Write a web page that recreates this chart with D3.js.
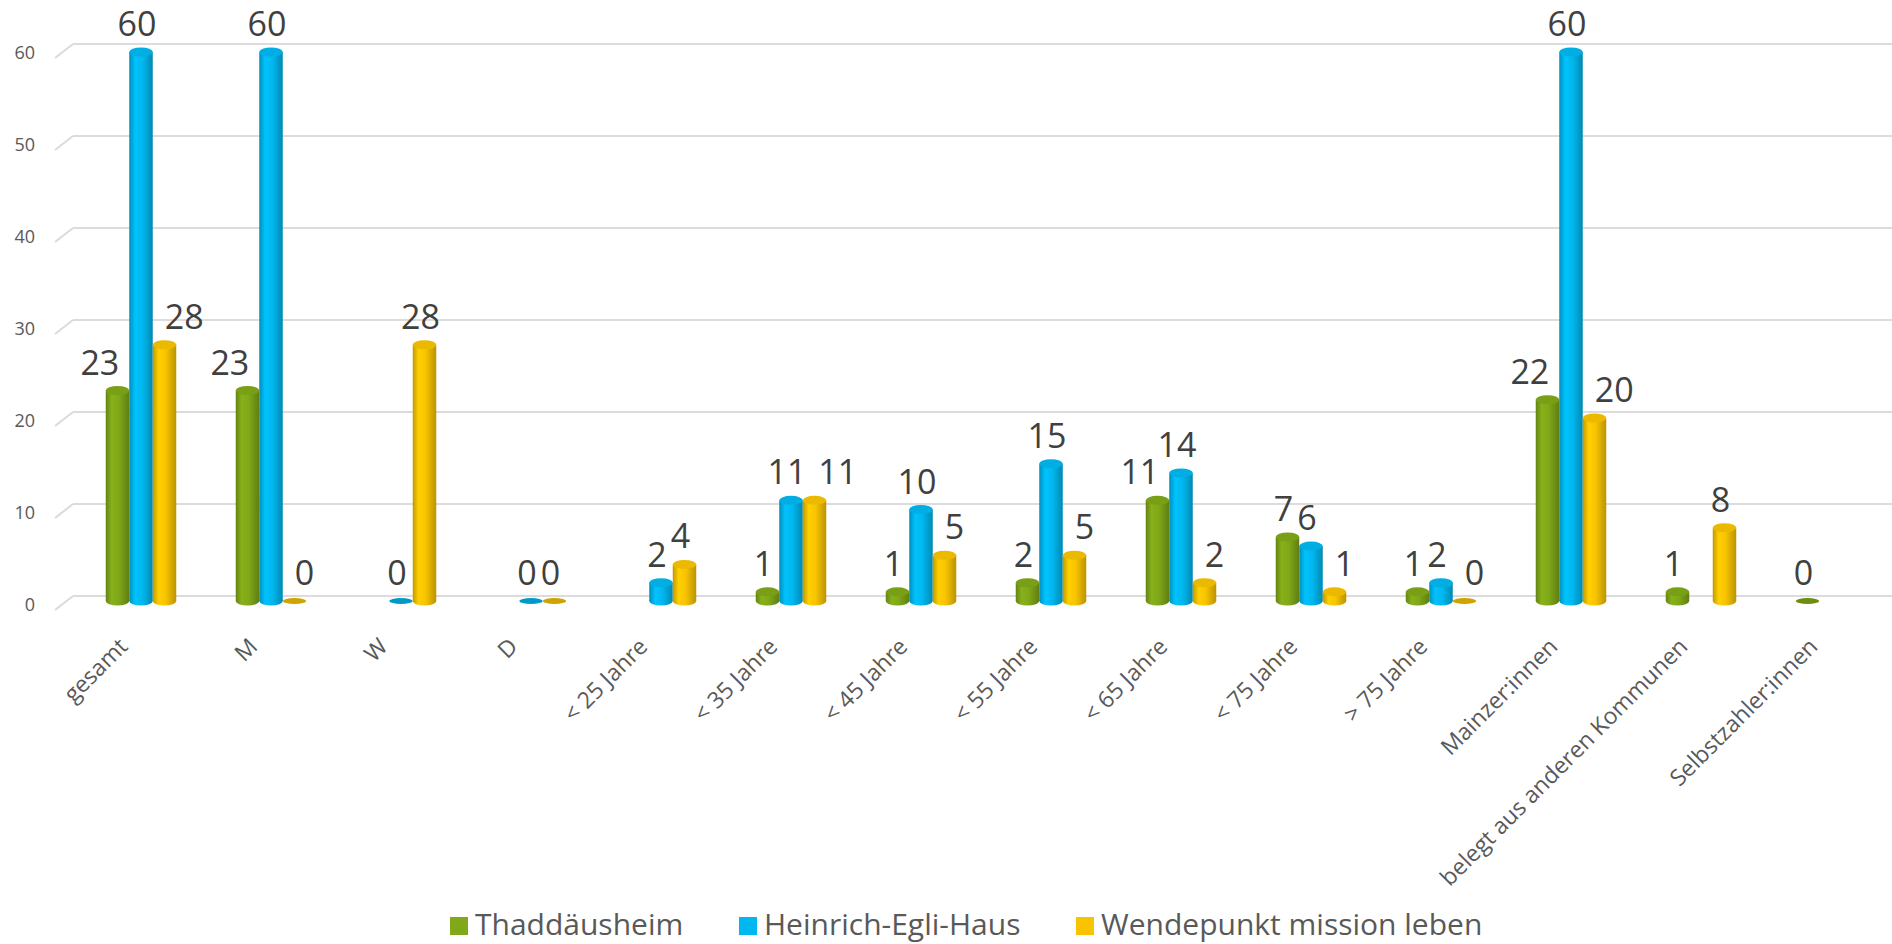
<!DOCTYPE html>
<html lang="de">
<head>
  <meta charset="UTF-8">
  <script src="https://cdn.jsdelivr.net/npm/d3@7"></script>
  <title>Belegung</title>
  <style>
    body { margin: 0; background: #fff; }
    text { font-family: "Open Sans", "Noto Sans", sans-serif; }
  </style>
</head>
<body>
  <svg width="1892" height="944"></svg>
  <script>
    var categories = ["gesamt", "M", "W", "D", "< 25 Jahre", "< 35 Jahre", "< 45 Jahre", "< 55 Jahre",
      "< 65 Jahre", "< 75 Jahre", "> 75 Jahre", "Mainzer:innen", "belegt aus anderen Kommunen", "Selbstzahler:innen"];
    var seriesNames = ["Thaddäusheim", "Heinrich-Egli-Haus", "Wendepunkt mission leben"];
    var thaddaeusheim = [23, 23, null, null, null, 1, 1, 2, 11, 7, 1, 22, 1, 0];
    var egliHaus = [60, 60, 0, 0, 2, 11, 10, 15, 14, 6, 2, 60, null, null];
    var wendepunkt = [28, 0, 28, 0, 4, 11, 5, 5, 2, 1, 0, 20, 8, null];
    var yTicks = [0, 10, 20, 30, 40, 50, 60];
    var colors = ["#80a818", "#00b8f0", "#f8c400"];

    var seriesValues = [thaddaeusheim, egliHaus, wendepunkt];
    var svg = d3.select("svg");

    // Skalen: Rückwand (Gitter) und Säulen liegen wegen 3D leicht versetzt
    var x0 = d3.scaleBand().domain(categories).range([76, 1896]);
    var x1 = d3.scaleBand().domain(d3.range(3)).range([0, x0.bandwidth()]).paddingOuter(1.266);
    var yWall = d3.scaleLinear().domain([0, 60]).range([596, 44]);
    var y = d3.scaleLinear().domain([0, 60]).range([601, 52]);

    // Verläufe für die Zylinder
    var defs = svg.append("defs");
    colors.forEach(function (c, i) {
      var base = d3.color(c);
      var g = defs.append("linearGradient").attr("id", "cyl" + i)
        .attr("x1", 0).attr("x2", 1).attr("y1", 0).attr("y2", 0);
      g.append("stop").attr("offset", "0%").attr("stop-color", base.darker(0.7));
      g.append("stop").attr("offset", "25%").attr("stop-color", base.brighter(0.15));
      g.append("stop").attr("offset", "55%").attr("stop-color", base);
      g.append("stop").attr("offset", "100%").attr("stop-color", base.darker(0.8));
    });

    // Gitterlinien mit schräger Kante links
    var grid = svg.append("g");
    yTicks.forEach(function (t) {
      var gy = yWall(t);
      grid.append("line").attr("x1", 73).attr("x2", 1892).attr("y1", gy).attr("y2", gy)
        .attr("stroke", "#dcdcdc").attr("stroke-width", 2.2);
      grid.append("line").attr("x1", 55).attr("x2", 73).attr("y1", gy + 14).attr("y2", gy)
        .attr("stroke", "#dcdcdc").attr("stroke-width", 2.2);
      grid.append("text").attr("x", 35).attr("y", gy + 15)
        .attr("text-anchor", "end").attr("font-size", 18).attr("fill", "#595959")
        .text(t);
    });

    var bw = x1.bandwidth();
    var ry = 4.5;
    var bars = svg.append("g");
    var labels = svg.append("g");

    categories.forEach(function (cat, ci) {
      var items = [];
      seriesValues.forEach(function (vals, si) {
        var v = vals[ci];
        if (v === null) return;
        var cx = x0(cat) + x1(si) + bw / 2;
        var top = y(v);
        items.push({ si: si, v: v, cx: cx, top: top,
          rect: { x0: cx - bw / 2, x1: cx + bw / 2, y0: top - 5, y1: 605 } });
      });

      // Säulen
      items.forEach(function (d) {
        var g = bars.append("g");
        var base = d3.color(colors[d.si]);
        if (d.v === 0) {
          g.append("ellipse").attr("cx", d.cx).attr("cy", y(0)).attr("rx", bw / 2).attr("ry", 3)
            .attr("fill", base.darker(0.5));
          return;
        }
        g.append("ellipse").attr("cx", d.cx).attr("cy", y(0)).attr("rx", bw / 2).attr("ry", ry)
          .attr("fill", "url(#cyl" + d.si + ")");
        g.append("rect").attr("x", d.cx - bw / 2).attr("y", d.top).attr("width", bw)
          .attr("height", y(0) - d.top).attr("fill", "url(#cyl" + d.si + ")");
        g.append("ellipse").attr("cx", d.cx).attr("cy", d.top).attr("rx", bw / 2).attr("ry", ry)
          .attr("fill", base.darker(0.15));
      });

      // Beschriftungen, mittlere Reihe zuerst, andere weichen aus
      var placed = [];
      var order = [1, 0, 2];
      order.forEach(function (si) {
        var d = items.find(function (it) { return it.si === si; });
        if (!d) return;
        var txt = String(d.v);
        var w = txt.length * 19.4;
        var b = d.top - 16;
        var lx = d.cx - 4;
        var obstacles = items.filter(function (o) { return o !== d; }).map(function (o) { return o.rect; })
          .concat(placed);
        var moved = true, guard = 0;
        while (moved && guard < 10) {
          moved = false; guard++;
          obstacles.forEach(function (o) {
            var bx0 = lx - w / 2, bx1 = lx + w / 2, by0 = b - 25, by1 = b;
            var ix = Math.min(bx1, o.x1) - Math.max(bx0, o.x0);
            var iy = Math.min(by1, o.y1) - Math.max(by0, o.y0);
            if (ix > 1 && iy > 0) {
              if (si === 0) lx = o.x0 - 10 - w / 2;
              else lx = o.x1 + 12 + w / 2;
              moved = true;
            }
          });
        }
        placed.push({ x0: lx - w / 2, x1: lx + w / 2, y0: b - 25, y1: b });
        labels.append("text").attr("x", lx).attr("y", b)
          .attr("text-anchor", "middle").attr("font-size", 34).attr("fill", "#404040")
          .text(txt);
      });
    });

    // Kategorien, gedreht
    svg.append("g").selectAll("text").data(categories).enter().append("text")
      .attr("transform", function (d) {
        return "translate(" + (x0(d) + x0.bandwidth() / 2 - 12) + ",648) rotate(-45)";
      })
      .attr("text-anchor", "end").attr("font-size", 23).attr("fill", "#595959")
      .text(function (d) { return d; });

    // Legende
    var legendX = [450, 739, 1076];
    var legend = svg.append("g");
    seriesNames.forEach(function (name, i) {
      legend.append("rect").attr("x", legendX[i]).attr("y", 917).attr("width", 18).attr("height", 18)
        .attr("fill", colors[i]);
      legend.append("text").attr("x", legendX[i] + 25).attr("y", 935)
        .attr("font-size", 30).attr("fill", "#595959").text(name);
    });
  </script>
</body>
</html>
